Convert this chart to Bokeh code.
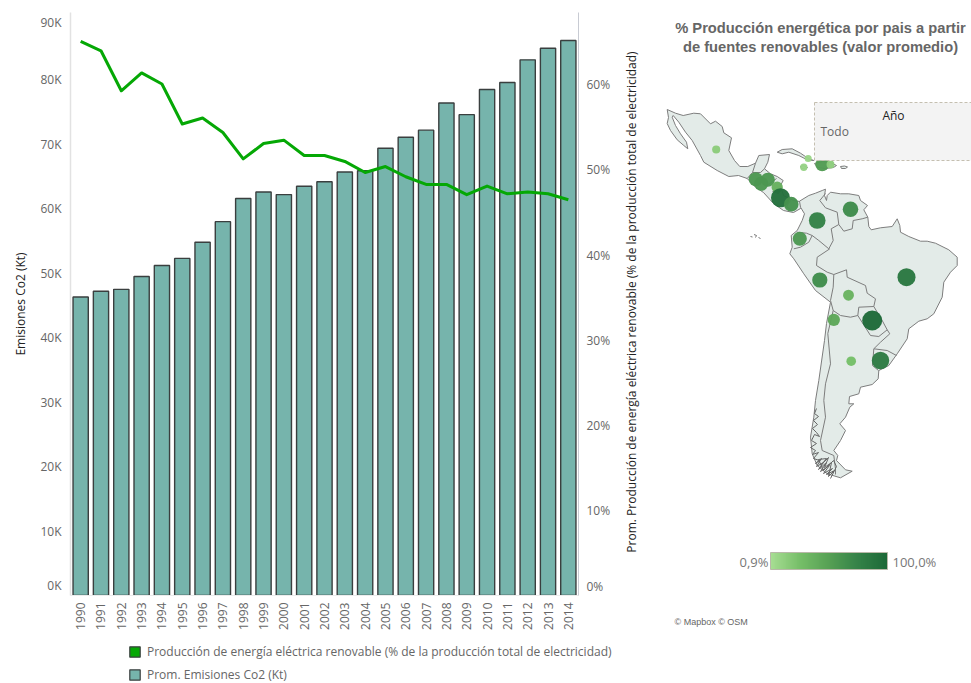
from bokeh.embed import file_html
from bokeh.layouts import column, row
from bokeh.models import (ColorBar, ColumnDataSource, FixedTicker, Label, Legend, LegendItem,
                          LinearAxis, LinearColorMapper, Range1d)
from bokeh.plotting import figure
from bokeh.resources import INLINE

# ---------- chart data ----------
years = list(range(1990, 2015))
emisiones_kt = [46300, 47200, 47500, 49500, 51200, 52300, 54800, 58000, 61600, 62600, 62200, 63500, 64200,
                65700, 65900, 69400, 71100, 72200, 76400, 74600, 78500, 79600, 83100, 84900, 86100]
renovable_pct = [65.1, 64.0, 59.3, 61.4, 60.1, 55.4, 56.1, 54.4, 51.3, 53.1, 53.5, 51.7, 51.7,
                 51.0, 49.7, 50.4, 49.2, 48.3, 48.3, 47.1, 48.1, 47.2, 47.4, 47.2, 46.5]
left_ticks = [1500, 10000, 20000, 30000, 40000, 50000, 60000, 70000, 80000, 88900]
left_labels = ["0K", "10K", "20K", "30K", "40K", "50K", "60K", "70K", "80K", "90K"]
right_ticks = [1.0, 10, 20, 30, 40, 50, 60]
right_labels = ["0%", "10%", "20%", "30%", "40%", "50%", "60%"]

# ---------- map data (in map-plane units) ----------
paises = ["México", "Cuba", "Jamaica", "Haití", "Rep. Dominicana", "Guatemala", "Honduras", "El Salvador",
          "Nicaragua", "Costa Rica", "Panamá", "Colombia", "Venezuela", "Ecuador", "Perú", "Brasil",
          "Bolivia", "Chile", "Paraguay", "Argentina", "Uruguay"]
pais_x = [715.7, 807.7, 803.3, 821.7, 830, 755.3, 767.3, 760.7, 776.7, 780, 790.7, 816.7, 850, 799.3,
          819.3, 906, 848, 833.3, 871.7, 850.7, 880]
pais_y = [149, 158, 166.7, 164, 164, 178.7, 179.3, 183.3, 186.7, 197.3, 203.7, 220, 208.7, 238.3,
          279.5, 276.7, 294.7, 319.3, 320, 360.7, 360]
pais_valor = [15, 8, 10, 55, 14, 58, 58, 58, 38, 93, 62, 76, 68, 58, 66, 86, 35, 45, 100, 26, 82]

mexico_ca_x = [666.7, 675, 682.7, 693.3, 700, 710, 715, 721.7, 723.3, 731, 728.3, 734, 739.3, 747.3, 755, 758.3,
               769, 767.3, 764, 770, 776.7, 782.7, 780, 783, 793, 803.3, 804.3, 800, 793, 783, 773, 763, 755,
               746.7, 738, 728.3, 716.7, 703.3, 700, 691.7, 685, 678.3, 672.7, 671.7, 675, 680, 686, 687.3,
               683.3, 676.7, 670, 666.7, 668]
mexico_ca_y = [109, 112.7, 115, 112.7, 113.3, 123.3, 120.7, 126, 132.3, 137.3, 150, 160, 166, 166, 162.7, 155,
               154, 161.7, 168.3, 173.3, 176, 180, 185, 195, 200, 201.7, 206.7, 208, 212, 210, 203, 192, 186.7,
               178, 175, 176, 170, 161.7, 155, 140, 131.7, 121.7, 115, 116.7, 125, 133.3, 141.7, 148.3,
               145, 139.3, 130, 123, 117]
cuba_x = [776.7, 781.7, 791.7, 800, 808.3, 813.3, 806.7, 798.3, 788.3, 781.7]
cuba_y = [151.7, 149, 148.3, 152.7, 158.3, 160, 159.3, 155, 151.7, 153.3]
jamaica_x = [800, 803, 807, 805, 801]
jamaica_y = [166, 165, 167, 168.5, 168]
hispaniola_x = [814, 822, 830, 836, 833, 825, 817]
hispaniola_y = [163, 161, 162, 165, 167, 168, 167]
puerto_rico_x = [840, 844, 847, 845, 841]
puerto_rico_y = [166, 165.5, 166.5, 168, 168]

sudamerica_x = [799, 808.3, 815, 821.7, 825, 824, 826, 826.7, 830, 840, 848.3, 858.3, 860, 867, 863.3, 867.3, 868.3,
                870.7, 880, 891.7, 896.7, 899.3, 900, 908.3, 920, 926.7, 935, 948.3, 956.7, 956.7, 950, 943.3,
                941.7, 933.3, 926.7, 918.3, 908.3, 906.7, 896.7, 888.3, 878.3, 877.7, 871.7, 860, 858.3, 849,
                848.3, 853.3, 849.3, 845, 839.3, 845, 840, 833.3, 837.3, 836, 845, 851.7, 840, 826.7, 816.7,
                811.7, 810, 813.3, 815, 818.3, 824, 826, 830, 815, 803.3, 793.3, 789.3, 791.7, 790.7, 796.7,
                801.7, 804, 800]
sudamerica_y = [200.7, 195, 192.7, 190, 188.7, 195, 200, 195, 191.7, 193.3, 193.3, 195, 200, 205, 209.3, 216.7, 226,
                229.3, 227.3, 226, 218.3, 225, 231.7, 236, 240.7, 240.7, 242.7, 249.3, 256.7, 265, 271.7, 281.7,
                296.7, 313.3, 318.3, 320.7, 328.3, 338.3, 353.3, 365, 370, 378.3, 384, 386.7, 393.3, 396,
                403.3, 403.3, 406.7, 416.7, 423.3, 430, 440, 450, 455, 460, 469.3, 470.7, 477.3, 473.3, 465,
                453.3, 436.7, 416.7, 400, 380, 340, 323, 301.7, 290, 273.3, 258.3, 253.3, 246.7, 235, 230,
                220, 213.3, 206.7]

frontera_x = [[825, 819.3, 825, 836.7, 838.3, 830.7, 832.7, 828.3, 818.3, 811.7, 806, 796.7],
              [811.7, 808.3, 800, 793.3],
              [838.3, 843.3, 851.7, 852.7, 861.7, 867.3],
              [829.3, 816.7, 816, 826.7, 833.3, 832.7, 830, 832.7, 840, 850, 857.3, 858.3, 873.3],
              [833.3, 846, 846.7, 865, 866.7, 875, 873.3, 881.7, 886.7, 878.3, 870, 857.3],
              [886.7, 889.3, 880, 873.3, 886.7, 896],
              [873.3, 872, 878],
              [832.7, 827.3, 830, 825, 823.3, 825, 820, 821.7, 833.3],
              [833.3, 835, 835],
              [755, 752, 746.7],
              [752, 760, 764],
              [764, 768, 776],
              [772, 778, 781],
              [790, 786, 790]]
frontera_y = [[193, 200, 207.3, 211.7, 224, 228.3, 240, 248.3, 240, 235, 232.7, 231.7],
              [235, 241.7, 246.7, 248.3],
              [224, 230.7, 228.3, 220, 218.3, 216.7],
              [248.3, 256.7, 265, 271.7, 274, 286.7, 300, 310, 315, 316.7, 315, 306.7, 306],
              [274, 269.3, 276.7, 285, 292.7, 298.3, 306, 320, 329.3, 336, 335, 315],
              [329.3, 333.3, 341.7, 348.3, 350, 355],
              [348.3, 365, 370],
              [310, 333, 363.3, 383.3, 400, 416.7, 440, 450, 455],
              [455, 468.3, 474],
              [162.7, 172, 178],
              [172, 172, 168.3],
              [181, 184, 178],
              [191, 193, 186],
              [200, 206, 209]]
archipielago_x = [816, 814, 818, 813, 817, 812, 816, 819, 814, 811, 816, 810, 815, 812, 818, 813, 819, 815, 821, 816,
                  823, 818, 826, 820, 829, 823, 832, 826, 834, 828, 831, 824, 828, 821, 826, 818, 823, 833, 836, 830]
archipielago_y = [408, 413, 416, 420, 424, 428, 432, 436, 434, 440, 443, 447, 450, 454, 452, 458, 460, 463, 458, 466,
                  462, 469, 462, 471, 465, 473, 468, 474, 470, 476, 462, 467, 457, 464, 458, 459, 470, 460, 466, 478]
galapagos_x = [[753.5, 756, 755], [758, 760], [750, 752]]
galapagos_y = [[234, 235, 237], [237, 238], [236, 236.5]]

paleta_stops = [(166, 221, 146), (118, 190, 104), (86, 160, 84), (52, 130, 72), (29, 105, 56)]


def paleta(stops, n=64):
    out = []
    for i in range(n):
        t = i / (n - 1) * (len(stops) - 1)
        k = min(int(t), len(stops) - 2)
        f = t - k
        c = [round(stops[k][j] + (stops[k + 1][j] - stops[k][j]) * f) for j in range(3)]
        out.append("#%02x%02x%02x" % tuple(c))
    return out


FONT = "Open Sans"
GREY = "#666666"
BAR_FILL = "#76b4ac"
LINE_GREEN = "#05a805"
EDGE = "#3a3f3f"
CHART_W = 620
LEFT_W = 665

# ---------- left chart ----------
p = figure(width=CHART_W, height=640, output_backend="svg", toolbar_location=None,
           x_range=Range1d(1989.5, 2014.5), y_range=Range1d(0, 90450),
           min_border_left=70, min_border_right=CHART_W - 578, min_border_top=12, min_border_bottom=45,
           outline_line_color=None, y_axis_location="left", frame_align=False)
p.grid.visible = False
p.extra_y_ranges = {"pct": Range1d(0, 68.5)}

p.vbar(x=years, top=emisiones_kt, width=0.75, fill_color=BAR_FILL, line_color=EDGE, line_width=1.4)
p.line(x=years, y=renovable_pct, y_range_name="pct", line_color=LINE_GREEN, line_width=3, line_join="round")

xa = p.xaxis[0]
xa.ticker = FixedTicker(ticks=years)
xa.major_label_orientation = 1.5708
xa.major_label_standoff = 1
xa.major_label_text_font = FONT
xa.major_label_text_font_size = "12px"
xa.major_label_text_color = GREY
xa.major_tick_line_color = None
xa.minor_tick_line_color = None
xa.axis_line_color = "#ececec"

ya = p.yaxis[0]
ya.ticker = FixedTicker(ticks=left_ticks)
ya.major_label_overrides = dict(zip(left_ticks, left_labels))
ya.axis_label = "Emisiones Co2 (Kt)"
ya.axis_label_text_font = FONT
ya.axis_label_text_font_size = "12px"
ya.axis_label_text_font_style = "normal"
ya.axis_label_text_color = "#222222"
ya.axis_label_standoff = 8
ya.major_label_standoff = 3
ya.major_label_text_font = FONT
ya.major_label_text_font_size = "12px"
ya.major_label_text_color = GREY
ya.major_tick_line_color = None
ya.minor_tick_line_color = None
ya.axis_line_color = "#e2e2e2"
ya.axis_line_width = 1.5

ra = LinearAxis(y_range_name="pct", ticker=FixedTicker(ticks=right_ticks),
                major_label_overrides=dict(zip(right_ticks, right_labels)))
ra.major_label_standoff = 2
ra.major_label_text_font = FONT
ra.major_label_text_font_size = "12px"
ra.major_label_text_color = GREY
ra.major_tick_line_color = None
ra.minor_tick_line_color = None
ra.axis_line_color = "#c8cbd3"
p.add_layout(ra, "right")

# ---------- right axis title, in its own narrow strip (reads bottom-to-top) ----------
tf = figure(width=LEFT_W - CHART_W, height=640, output_backend="svg", toolbar_location=None,
            x_range=Range1d(CHART_W, LEFT_W), y_range=Range1d(640, 0), min_border=0,
            outline_line_color=None, frame_align=False)
tf.axis.visible = False
tf.grid.visible = False
tf.add_layout(Label(x=631, y=301.5, angle=1.5708,
                    text="Prom. Producción de energía eléctrica renovable (% de la producción total de electricidad)",
                    text_font=FONT, text_font_size="12px", text_color="#222222",
                    text_align="center", text_baseline="middle"))

# ---------- legend strip under the chart ----------
lf = figure(width=LEFT_W, height=43, output_backend="svg", toolbar_location=None,
            x_range=Range1d(0, 1), y_range=Range1d(0, 1), min_border=0,
            outline_line_color=None, frame_align=False)
lf.axis.visible = False
lf.grid.visible = False
# legend-key renderers only: one non-finite bar each, so nothing is drawn in the strip itself
sw_green = lf.vbar(x=[float("nan")], top=[float("nan")], width=0.5,
                   fill_color=LINE_GREEN, line_color=EDGE, line_width=1.2)
sw_teal = lf.vbar(x=[float("nan")], top=[float("nan")], width=0.5,
                  fill_color=BAR_FILL, line_color=EDGE, line_width=1.2)
legend = Legend(items=[
    LegendItem(label="Producción de energía eléctrica renovable (% de la producción total de electricidad)",
               renderers=[sw_green]),
    LegendItem(label="Prom. Emisiones Co2 (Kt)", renderers=[sw_teal])],
    location=(128, 0), orientation="vertical", padding=0, margin=0, spacing=6, label_standoff=6,
    glyph_width=13, glyph_height=13, border_line_color=None, background_fill_alpha=0,
    label_text_font=FONT, label_text_font_size="12px", label_text_color=GREY, label_height=13)
lf.add_layout(legend, "center")

# ---------- map ----------
m = figure(width=971 - LEFT_W, height=683, output_backend="svg", toolbar_location=None,
           x_range=Range1d(LEFT_W, 971), y_range=Range1d(683, 0),
           min_border=0, outline_line_color=None, frame_align=False)
m.axis.visible = False
m.grid.visible = False

LAND = "#e3ebe8"
COAST = "#7d7d7d"
m.patches([mexico_ca_x, cuba_x, jamaica_x, hispaniola_x, puerto_rico_x, sudamerica_x],
          [mexico_ca_y, cuba_y, jamaica_y, hispaniola_y, puerto_rico_y, sudamerica_y],
          fill_color=LAND, line_color=COAST, line_width=1)
m.multi_line(frontera_x, frontera_y, line_color=COAST, line_width=1)
m.line(archipielago_x, archipielago_y, line_color="#666666", line_width=1)
m.multi_line(galapagos_x, galapagos_y, line_color="#777777", line_width=1)

mapper = LinearColorMapper(palette=paleta(paleta_stops), low=0.9, high=100)
src = ColumnDataSource(dict(x=pais_x, y=pais_y, valor=pais_valor, pais=paises,
                            d=[2 * (3 + 0.07 * v) for v in pais_valor]))
m.scatter("x", "y", size="d", source=src, line_color=None, fill_alpha=0.96,
          fill_color={"field": "valor", "transform": mapper})

# year filter box
m.quad(left=[814], right=[975], top=[102], bottom=[160], fill_color="#f3f3f3",
       line_color="#c4bfb0", line_dash="3 2", line_width=1)
m.add_layout(Label(x=893, y=115, text="Año", text_font=FONT, text_font_size="12px", text_color="#222222",
                   text_align="center", text_baseline="middle"))
m.add_layout(Label(x=820, y=131, text="Todo", text_font=FONT, text_font_size="12px", text_color=GREY,
                   text_align="left", text_baseline="middle"))

# title
for ty, tx in ((27, "% Producción energética por pais a partir"), (46, "de fuentes renovables (valor promedio)")):
    m.add_layout(Label(x=820, y=ty, text=tx, text_font="Liberation Sans", text_font_size="14.7px",
                       text_font_style="bold", text_color=GREY, text_align="center", text_baseline="middle"))

# colour legend
cb = ColorBar(color_mapper=mapper, orientation="horizontal", location=(770 - LEFT_W, 114), width=117, height=17,
              padding=0, margin=0, ticker=FixedTicker(ticks=[]), major_tick_line_color=None,
              minor_tick_line_color=None, bar_line_color="#b8b8a8", background_fill_alpha=0,
              border_line_color=None)
m.add_layout(cb, "center")
m.add_layout(Label(x=768, y=561, text="0,9%", text_font=FONT, text_font_size="13px", text_color="#777777",
                   text_align="right", text_baseline="middle"))
m.add_layout(Label(x=892, y=561, text="100,0%", text_font=FONT, text_font_size="13px", text_color="#777777",
                   text_align="left", text_baseline="middle"))
m.add_layout(Label(x=674, y=621, text="© Mapbox © OSM", text_font="Liberation Sans", text_font_size="9px",
                   text_color="#666666", text_align="left", text_baseline="middle"))

layout = row(column(row(p, tf, spacing=0), lf, spacing=0), m, spacing=0)
open("out.html", "w").write(file_html(layout, INLINE))
